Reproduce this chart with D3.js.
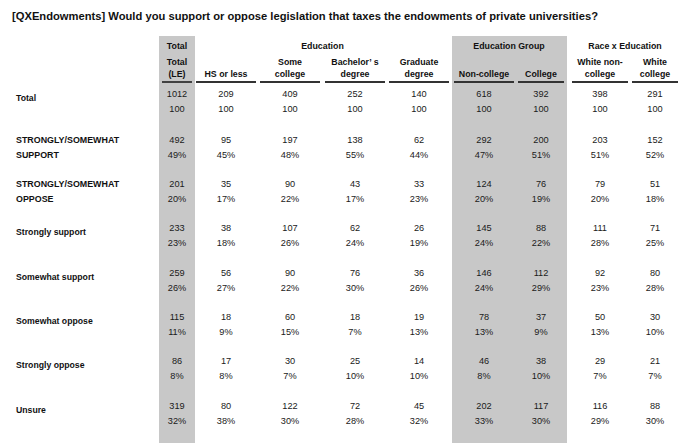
<!DOCTYPE html>
<html><head><meta charset="utf-8">
<script src="https://cdn.jsdelivr.net/npm/d3@7"></script>
<style>
html,body{margin:0;padding:0;background:#fff;}
svg{display:block;font-family:"Liberation Sans",Arial,sans-serif;}
</style></head>
<body>
<script>
const title = "[QXEndowments] Would you support or oppose legislation that taxes the endowments of private universities?";
const groups = [
  {name:"Total", cols:["Total (LE)"]},
  {name:"Education", cols:["HS or less","Some college","Bachelor’ s degree","Graduate degree"]},
  {name:"Education Group", cols:["Non-college","College"]},
  {name:"Race x Education", cols:["White non-college","White college"]}
];
const columns = ["Total (LE)","HS or less","Some college","Bachelor’ s degree","Graduate degree","Non-college","College","White non-college","White college"];
const columnLines = [["Total","(LE)"],["HS or less"],["Some","college"],["Bachelor’ s","degree"],["Graduate","degree"],["Non-college"],["College"],["White non-","college"],["White","college"]];
const rowLabels = ["Total","STRONGLY/SOMEWHAT SUPPORT","STRONGLY/SOMEWHAT OPPOSE","Strongly support","Somewhat support","Somewhat oppose","Strongly oppose","Unsure"];
const rowLabelLines = [["Total"],["STRONGLY/SOMEWHAT","SUPPORT"],["STRONGLY/SOMEWHAT","OPPOSE"],["Strongly support"],["Somewhat support"],["Somewhat oppose"],["Strongly oppose"],["Unsure"]];
const counts = [
  [1012,209,409,252,140,618,392,398,291],
  [492,95,197,138,62,292,200,203,152],
  [201,35,90,43,33,124,76,79,51],
  [233,38,107,62,26,145,88,111,71],
  [259,56,90,76,36,146,112,92,80],
  [115,18,60,18,19,78,37,50,30],
  [86,17,30,25,14,46,38,29,21],
  [319,80,122,72,45,202,117,116,88]
];
const percents = [
  [100,100,100,100,100,100,100,100,100],
  [49,45,48,55,44,47,51,51,52],
  [20,17,22,17,23,20,19,20,18],
  [23,18,26,24,19,24,22,28,25],
  [26,27,22,30,26,24,29,23,28],
  [11,9,15,7,13,13,9,13,10],
  [8,8,7,10,10,8,10,7,7],
  [32,38,30,28,32,33,30,29,30]
];

const W=680,H=446;
const svg=d3.select("body").append("svg").attr("width",W).attr("height",H);

// scales
const xCenter = d3.scaleOrdinal().domain(columns).range([177,226,290,355,419,484,541,600,655]);
const colHalf = d3.scaleOrdinal().domain(columns).range([15,30,30,30,30,30,23,28,23]);
const yRow = d3.scaleOrdinal().domain(rowLabels).range([93,139,183,227,272,316,360,405]);
const pctOffset = 15;

// shaded bands
svg.append("rect").attr("x",159).attr("y",36).attr("width",36).attr("height",407).attr("fill","#c8c8c8");
svg.append("rect").attr("x",452).attr("y",36).attr("width",115).attr("height",407).attr("fill","#c8c8c8");

// title
svg.append("text").attr("x",12).attr("y",20).attr("font-size",11.2).attr("font-weight","bold").attr("fill","#111").text(title);

// group headers
const groupCenter = g => {
  const xs = g.cols.map(c=>xCenter(c));
  return (d3.min(xs.map((x,i)=>x-colHalf(g.cols[i])))+d3.max(xs.map((x,i)=>x+colHalf(g.cols[i]))))/2;
};
svg.selectAll("text.grp").data(groups).join("text").attr("class","grp")
  .attr("x",g=>g.cols.length===1?xCenter(g.cols[0]):groupCenter(g)).attr("y",49)
  .attr("text-anchor","middle").attr("font-size",8.8).attr("font-weight","bold").attr("fill","#111")
  .text(g=>g.name);

// column headers
const colG = svg.selectAll("g.col").data(columns).join("g").attr("class","col");
colG.each(function(c,i){
  const lines=columnLines[i];
  const g=d3.select(this);
  lines.forEach((l,j)=>{
    g.append("text").attr("x",xCenter(c)).attr("y",76.5-(lines.length-1-j)*11.5)
      .attr("text-anchor","middle").attr("font-size",8.8).attr("font-weight","bold").attr("fill","#111").text(l);
  });
  g.append("line").attr("x1",xCenter(c)-colHalf(c)).attr("x2",xCenter(c)+colHalf(c))
    .attr("y1",82).attr("y2",82).attr("stroke","#333").attr("stroke-width",1.8);
});

// row labels
rowLabels.forEach((r,i)=>{
  const lines=rowLabelLines[i];
  const y0=yRow(r);
  const caps = lines.length>1;
  lines.forEach((l,j)=>{
    svg.append("text").attr("x",16)
      .attr("y",lines.length>1? y0+3.5+j*pctOffset : y0+8)
      .attr("font-size",caps?8.9:8.7).attr("font-weight","bold").attr("fill","#111").text(l);
  });
});

// cells
rowLabels.forEach((r,i)=>{
  svg.selectAll("text.c"+i).data(columns).join("text").attr("class","c"+i)
    .attr("x",c=>xCenter(c)).attr("y",yRow(r)+3.5).attr("text-anchor","middle")
    .attr("font-size",9.2).attr("fill","#1a1a1a").text((c,j)=>counts[i][j]);
  svg.selectAll("text.p"+i).data(columns).join("text").attr("class","p"+i)
    .attr("x",c=>xCenter(c)).attr("y",yRow(r)+3.5+pctOffset).attr("text-anchor","middle")
    .attr("font-size",9.2).attr("fill","#1a1a1a").text((c,j)=> i===0? percents[i][j] : percents[i][j]+"%");
});
</script>
</body></html>
